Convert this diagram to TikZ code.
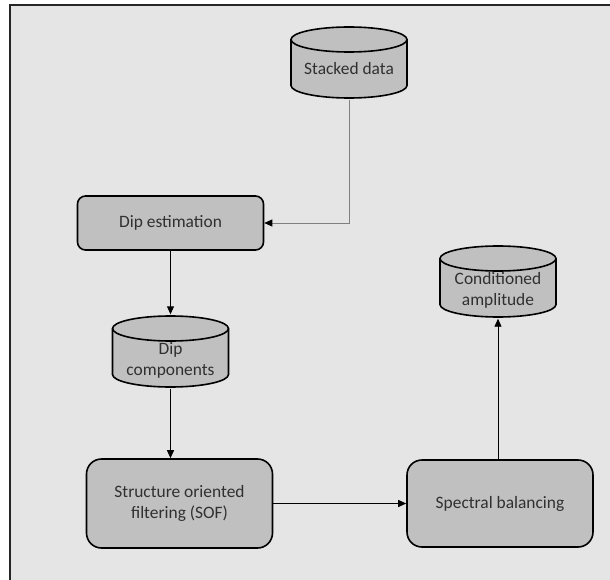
\documentclass[tikz,border=0pt]{standalone}
\usepackage{fontspec}
\setmainfont{Carlito}
\usetikzlibrary{arrows.meta}
\definecolor{boxgray}{HTML}{C0C0C0}
\definecolor{bggray}{HTML}{E5E5E5}
\definecolor{txtgray}{HTML}{303030}
\definecolor{linkgray}{HTML}{808080}
\newcommand{\lidstrut}[1][30pt]{\rule{0pt}{#1}} % keeps the store text below the lid

\begin{document}
\begin{tikzpicture}[x=1pt,y=-1pt,
  every node/.style={font=\fontsize{17.4}{21}\selectfont, text=txtgray, align=center},
  proc/.style={draw=black, line width=1.6pt, fill=boxgray, minimum width=186pt},
  % drum shaped data store, drawn inside the node box
  store/.style={minimum width=119pt, minimum height=74pt, inner sep=0pt,
    path picture={
      \filldraw[fill=boxgray, line width=1.6pt]
        ([xshift=1.5pt,yshift=-14pt]path picture bounding box.north west)
        -- ([xshift=1.5pt,yshift=14pt]path picture bounding box.south west)
        arc[start angle=180, end angle=360, x radius=58pt, y radius=12.5pt]
        -- ([xshift=-1.5pt,yshift=-14pt]path picture bounding box.north east)
        arc[start angle=0, end angle=180, x radius=58pt, y radius=12.5pt] -- cycle;
      \draw[line width=1.6pt] ([xshift=1.5pt,yshift=-14pt]path picture bounding box.north west)
        arc[start angle=180, end angle=360, x radius=58pt, y radius=12.5pt];}},
  link/.style={-{Triangle[length=8pt,width=7pt]}, line width=0.9pt}]
  \useasboundingbox (0,0) rectangle (610,580);
  \clip (0,0) rectangle (610,580);
  \fill[white] (0,0) rectangle (610,580);
  \filldraw[fill=bggray, draw=black!85, line width=2pt] (10,5) rectangle (614,584);

  % data stores
  \node[store] (stack) at (349,62.5) {\lidstrut[24pt]Stacked data};
  \node[store] (dipcomp) at (170.5,351.5) {\lidstrut Dip\\components};
  \node[store] (cond) at (498,281.5) {\lidstrut Conditioned\\amplitude};

  % processing steps
  \node[proc, rounded corners=8pt, minimum height=54pt] (dipest) at (170.5,223) {Dip estimation};
  \node[proc, rounded corners=15pt, minimum height=89pt] (sof) at (179.5,503.5) {Structure oriented\\filtering (SOF)};
  \node[proc, rounded corners=15pt, minimum height=87pt] (spec) at (500,503.5) {Spectral balancing};

  % flow
  \draw[link, draw=linkgray, -{Triangle[length=8pt,width=7pt,color=black]}] (stack.south) |- (dipest.east);
  \draw[link] (dipest.south) -- (dipcomp.north);
  \draw[link] (dipcomp.south) -- (dipcomp.south |- sof.north);
  \draw[link] (sof.east) -- (spec.west);
  \draw[link] (spec.north -| cond.south) -- (cond.south);
\end{tikzpicture}
\end{document}
